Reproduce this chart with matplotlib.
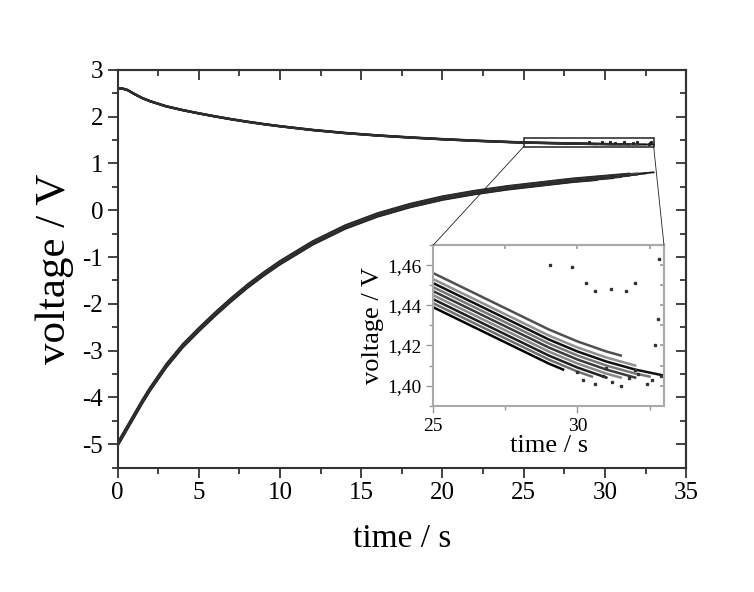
import numpy as np
import matplotlib
matplotlib.use("Agg")
import matplotlib.pyplot as plt
from matplotlib.patches import Rectangle, ConnectionPatch
from matplotlib.ticker import MultipleLocator, FuncFormatter, NullFormatter, FixedLocator

plt.rcParams['font.family'] = ['Liberation Serif', 'DejaVu Serif']
plt.rcParams['axes.unicode_minus'] = False

# time grid (s) shared by all runs
t_main = np.array([0, 0.3, 0.6, 1, 1.5, 2, 3, 4, 5, 6, 7, 8, 9, 10, 12, 14, 16, 18, 20, 22, 24,
                   25, 25.5, 26, 26.5, 27, 27.5, 28, 28.5, 29, 29.5, 30, 30.5, 31, 31.5, 32, 32.5, 33])

# middle run of the upper family (V)
upper_base = np.array([2.600, 2.600, 2.570, 2.490, 2.400, 2.330, 2.220, 2.140, 2.070, 2.005, 1.945,
                       1.890, 1.840, 1.795, 1.715, 1.650, 1.598, 1.555, 1.518, 1.486, 1.459,
                       1.447, 1.4435, 1.440, 1.4365, 1.433, 1.4295, 1.426, 1.4225, 1.419, 1.416,
                       1.413, 1.4105, 1.408, 1.406, 1.404, 1.4025, 1.401])

# middle run of the lower family (V)
lower_base = np.array([-5.00, -4.82, -4.64, -4.40, -4.10, -3.82, -3.32, -2.90, -2.55, -2.22, -1.91,
                       -1.62, -1.36, -1.12, -0.70, -0.36, -0.10, 0.10, 0.26, 0.38, 0.48,
                       0.52, 0.54, 0.56, 0.58, 0.60, 0.62, 0.64, 0.655, 0.67, 0.685,
                       0.70, 0.715, 0.73, 0.745, 0.76, 0.775, 0.79])

# spread between the repeated runs
upper_offsets = [-0.008, -0.006, -0.004, -0.002, 0.0, 0.002, 0.004, 0.006, 0.009]
lower_offsets = [-0.04, -0.03, -0.02, -0.01, 0.0, 0.01, 0.02, 0.03, 0.04]
run_end = [29.5, 30.5, 31.0, 31.5, 32.0, 32.5, 33.0, 32.0, 31.5]
run_colors = ['#000000', '#6e6e6e', '#1e1e1e', '#8a8a8a', '#3a3a3a',
              '#777777', '#111111', '#909090', '#505050']
main_colors = ['#111111', '#333333', '#1a1a1a', '#444444', '#222222',
               '#3a3a3a', '#151515', '#4a4a4a', '#2a2a2a']

# stray samples seen in the inset
stray_t = [29.05, 29.8, 30.3, 30.6, 31.17, 31.7, 32.0, 32.84, 32.78, 32.7]
stray_v = [1.460, 1.459, 1.451, 1.447, 1.448, 1.447, 1.451, 1.463, 1.433, 1.420]
noise_t = [30.0, 30.2, 30.6, 30.9, 31.0, 31.2, 31.5, 31.8, 32.0, 32.1, 32.4, 32.6, 32.9]
noise_v = [1.407, 1.403, 1.401, 1.405, 1.409, 1.402, 1.400, 1.404, 1.408, 1.406, 1.401, 1.403, 1.405]


def mirror_axes(parent, xmaj, xmin, ymaj, ymin, col, lmaj, lmin, spine_col):
    # inward ticks on top/right, no labels
    secx = parent.secondary_xaxis('top')
    secx.xaxis.set_major_locator(xmaj)
    secx.xaxis.set_minor_locator(xmin)
    secx.xaxis.set_major_formatter(NullFormatter())
    secy = parent.secondary_yaxis('right')
    secy.yaxis.set_major_locator(ymaj)
    secy.yaxis.set_minor_locator(ymin)
    secy.yaxis.set_major_formatter(NullFormatter())
    for sec in (secx, secy):
        sec.tick_params(which='both', direction='in', color=col, width=1.2)
        sec.tick_params(which='major', length=lmaj)
        sec.tick_params(which='minor', length=lmin)
        for s in sec.spines.values():
            s.set_linewidth(1.5)
            s.set_color(spine_col)


fig = plt.figure(figsize=(7.54, 5.92), dpi=100)
ax = fig.add_axes([0.156, 0.210, 0.754, 0.672])

for off_u, off_l, end, col in zip(upper_offsets, lower_offsets, run_end, main_colors):
    m = t_main <= end
    ax.plot(t_main[m], upper_base[m] + off_u, color=col, lw=1.3)
    ax.plot(t_main[m], lower_base[m] + off_l, color=col, lw=1.3)
ax.plot(stray_t, stray_v, 's', color='#222222', ms=1.2, ls='none')

ax.set_xlim(0, 35)
ax.set_ylim(-5.5, 3)
ax.xaxis.set_major_locator(MultipleLocator(5))
ax.xaxis.set_minor_locator(MultipleLocator(2.5))
ax.yaxis.set_major_locator(MultipleLocator(1))
ax.yaxis.set_minor_locator(MultipleLocator(0.5))
ax.tick_params(which='both', direction='out', labelsize=18, color='#222222', width=1.2)
ax.tick_params(which='major', length=7)
ax.tick_params(which='minor', length=4)
for s in ax.spines.values():
    s.set_linewidth(1.5)
    s.set_color('#333333')
ax.set_xlabel('time / s', fontsize=24, labelpad=14)
ax.set_ylabel('voltage / V', fontsize=31, labelpad=6)
mirror_axes(ax, MultipleLocator(5), MultipleLocator(2.5), MultipleLocator(1), MultipleLocator(0.5),
            '#222222', 7, 4, '#333333')

# zoom box
ax.add_patch(Rectangle((25, 1.36), 8, 0.175, fc='none', ec='#333333', lw=1.2))

# inset
axin = fig.add_axes([0.5747, 0.3147, 0.3059, 0.2714])
for off_u, end, col in zip(upper_offsets, run_end, run_colors):
    m = t_main <= end
    axin.plot(t_main[m], upper_base[m] + off_u, color=col, lw=1.8)
axin.plot(stray_t, stray_v, 's', color='#333333', ms=2, ls='none')
axin.plot(noise_t, noise_v, 's', color='#333333', ms=2, ls='none')
axin.set_xlim(25, 33)
axin.set_ylim(1.39, 1.47)
axin.set_xticks([25, 30])
axin.xaxis.set_minor_locator(MultipleLocator(2.5))
axin.set_yticks([1.40, 1.42, 1.44, 1.46])
axin.yaxis.set_minor_locator(MultipleLocator(0.01))
axin.yaxis.set_major_formatter(FuncFormatter(lambda v, p: ('%.2f' % v).replace('.', ',')))
axin.tick_params(which='both', direction='out', labelsize=14, color='#999999', width=1.0)
axin.tick_params(which='major', length=5)
axin.tick_params(which='minor', length=3)
for s in axin.spines.values():
    s.set_linewidth(1.5)
    s.set_color('#aaaaaa')
axin.set_xlabel('time / s', fontsize=19, labelpad=0)
axin.set_ylabel('voltage / V', fontsize=19, labelpad=2)
mirror_axes(axin, FixedLocator([25, 30]), MultipleLocator(2.5),
            FixedLocator([1.40, 1.42, 1.44, 1.46]), MultipleLocator(0.01),
            '#999999', 3, 3, '#aaaaaa')

for x0 in (25, 33):
    con = ConnectionPatch(xyA=(x0, 1.36), coordsA=ax.transData,
                          xyB=(x0, 1.47), coordsB=axin.transData,
                          color='#222222', lw=0.6)
    fig.add_artist(con)

fig.savefig('out.png', dpi=100)
